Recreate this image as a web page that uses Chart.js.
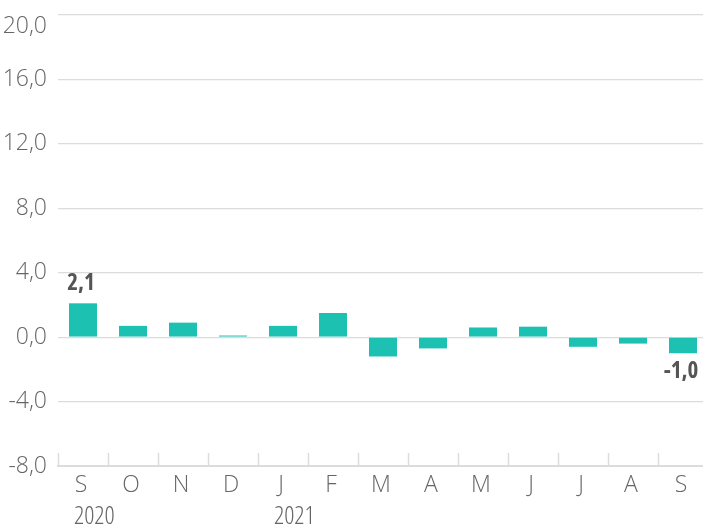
<!DOCTYPE html>
<html>
<head>
<meta charset="utf-8">
<script src="https://cdn.jsdelivr.net/npm/chart.js@4.4.1/dist/chart.umd.min.js"></script>
<style>
  html, body { margin: 0; padding: 0; overflow: hidden; background: #fff; }
  #wrap { width: 703px; height: 528px; overflow: hidden; }
  canvas { display: block; }
</style>
</head>
<body>
<div id="wrap"><canvas id="c" width="708" height="528"></canvas></div>
<script>
const months = ['S', 'O', 'N', 'D', 'J', 'F', 'M', 'A', 'M', 'J', 'J', 'A', 'S'];
const values = [2.1, 0.7, 0.9, 0.1, 0.7, 1.5, -1.2, -0.7, 0.6, 0.65, -0.6, -0.4, -1.0];
const yearLabels = ['2020', '', '', '', '2021', '', '', '', '', '', '', '', ''];
const labeledIndices = [0, 12];
const yTicks = [-8, -4, 0, 4, 8, 12, 16, 20];

const FONT = "'Open Sans', 'DejaVu Sans Condensed', sans-serif";
const STRETCH = 'condensed';
const fmt = v => v.toFixed(1).replace('.', ',');

const extras = {
  id: 'extras',
  beforeDatasetsDraw(chart) {
    const ctx = chart.ctx;
    const x = chart.scales.x;
    const area = chart.chartArea;
    const half = (x.getPixelForValue(1) - x.getPixelForValue(0)) / 2;
    ctx.save();
    ctx.strokeStyle = '#dcdcdc';
    ctx.lineWidth = 1.5;
    for (let i = 0; i <= months.length; i++) {
      const px = Math.round(x.getPixelForValue(0) - half + i * 2 * half) + 0.5;
      ctx.beginPath();
      ctx.moveTo(px, area.bottom - 13);
      ctx.lineTo(px, area.bottom);
      ctx.stroke();
    }
    ctx.restore();
  },
  afterDatasetsDraw(chart) {
    const ctx = chart.ctx;
    const x = chart.scales.x;
    const meta = chart.getDatasetMeta(0);
    ctx.save();
    ctx.font = STRETCH + ' bold 23px ' + FONT;
    ctx.fillStyle = '#555555';
    ctx.textAlign = 'center';
    ctx.textBaseline = 'middle';
    labeledIndices.forEach(i => {
      const bar = meta.data[i];
      const v = values[i];
      const ty = v >= 0 ? bar.y - 20 : bar.y + 18;
      ctx.fillText(fmt(v), bar.x - 2, ty);
    });
    ctx.font = STRETCH + ' 300 25px ' + FONT;
    ctx.fillStyle = '#666666';
    ctx.textAlign = 'left';
    yearLabels.forEach((t, i) => {
      if (!t) return;
      ctx.fillText(t, x.getPixelForValue(i) - 9, 517);
    });
    ctx.restore();
  }
};

new Chart(document.getElementById('c'), {
  type: 'bar',
  data: {
    labels: months,
    datasets: [{
      data: values,
      backgroundColor: '#1cc1b1',
      borderWidth: 0,
      categoryPercentage: 1,
      barPercentage: 0.56
    }]
  },
  options: {
    responsive: false,
    animation: false,
    layout: { padding: { top: 15, right: 0, bottom: 0, left: 0 } },
    plugins: { legend: { display: false }, tooltip: { enabled: false } },
    scales: {
      x: {
        grid: { display: false, drawTicks: false },
        border: { display: true, color: '#dcdcdc', width: 2 },
        ticks: {
          color: '#666666',
          font: { family: FONT, size: 23, style: STRETCH, weight: 300 },
          padding: 6,
          labelOffset: -2,
          maxRotation: 0,
          autoSkip: false
        },
        afterFit(s) { s.height = 62; }
      },
      y: {
        min: -8,
        max: 20,
        afterBuildTicks(s) { s.ticks = yTicks.map(v => ({ value: v })); },
        grid: { color: '#dcdcdc', lineWidth: 1.2, drawTicks: false },
        border: { display: false },
        ticks: {
          color: '#666666',
          font: { family: FONT, size: 23, lineHeight: 1, style: STRETCH, weight: 300 },
          padding: 11,
          callback: v => v === 20 ? ['', fmt(v)] : fmt(v)
        },
        afterFit(s) { s.width = 58; s.paddingTop = 0; s.paddingBottom = 0; }
      }
    }
  },
  plugins: [extras]
});
</script>
</body>
</html>
